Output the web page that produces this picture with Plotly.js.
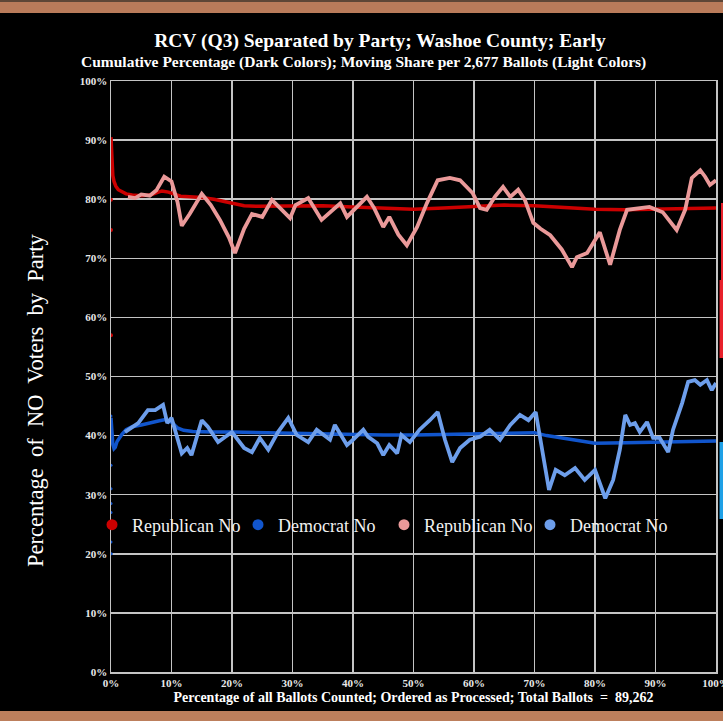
<!DOCTYPE html>
<html>
<head>
<meta charset="utf-8">
<script src="https://cdn.plot.ly/plotly-3.0.1.min.js"></script>
<style>
  html, body { margin: 0; padding: 0; background: #000; width: 723px; height: 721px; overflow: hidden; }
  #top { height: 2px; background: #5e4636; width: 723px; }
  #topband { height: 11px; background: #b97b5a; width: 723px; }
  #chart { width: 1500px; height: 698px; }
  #botband { height: 10px; background: #bd7f5c; width: 723px; }
</style>
</head>
<body>
<div id="top"></div>
<div id="topband"></div>
<div id="chart"></div>
<div id="botband"></div>
<script>
// ---- data (percent of ballots counted vs percent NO) ----
const repCumX = [0, 0.1, 0.2, 0.3, 0.5, 0.8, 1.2, 1.8, 2.5, 3.5, 5, 6.5, 7.5, 8.4, 9.5, 10.5, 11.5, 13, 15, 17, 19, 20.5, 22, 24, 27, 30, 35, 40, 45, 50, 55, 60, 65, 70, 75, 80, 85, 90, 95, 100];
const repCumY = [90.5, 88, 86, 84, 83, 82.2, 81.6, 81.2, 80.9, 80.7, 80.6, 80.7, 81.0, 81.4, 81.2, 80.9, 80.5, 80.4, 80.3, 80.0, 79.6, 79.2, 78.9, 78.8, 78.8, 78.8, 78.9, 78.7, 78.5, 78.3, 78.5, 78.8, 79.0, 78.9, 78.6, 78.3, 78.2, 78.3, 78.4, 78.5];
const repEarlyX = [0, 0, 0, 0.05];
const repEarlyY = [79.9, 74.8, 57.0, 86.0];

const demCumX = [0, 0.1, 0.2, 0.3, 0.5, 0.7, 1.0, 1.3, 1.8, 2.5, 3.5, 5, 6.5, 8, 9, 10, 11, 12, 13.5, 15, 17, 20, 25, 30, 35, 40, 45, 50, 55, 60, 65, 70, 72, 75, 78, 80, 85, 90, 95, 100];
const demCumY = [43, 41, 39.5, 38.5, 37.8, 38, 39, 39.5, 40.2, 41, 41.5, 41.8, 42.2, 42.5, 42.7, 42.3, 41.3, 40.9, 40.7, 40.6, 40.6, 40.6, 40.5, 40.3, 40.2, 40.2, 40.1, 40.1, 40.2, 40.3, 40.4, 40.5, 40.0, 39.5, 39.0, 38.7, 38.8, 38.9, 39.0, 39.1];
const demEarlyX = [0, 0, 0, 0, 0, 0, 0, 0.05];
const demEarlyY = [43.3, 35, 31, 28.5, 27, 25, 22, 20];

const repMovX = [2.8, 4, 5, 6.4, 7.5, 8.8, 10, 11, 11.7, 13, 15, 16.5, 18, 19.5, 20.5, 22, 23.3, 25, 26.6, 28, 29.6, 30.5, 32.6, 34.8, 36.5, 37.9, 39, 40.5, 42.3, 43.5, 45, 46, 47.5, 48.9, 50.6, 52.2, 54, 56, 57.7, 59.8, 61, 62.1, 63.5, 64.8, 66, 67.3, 68.4, 69.8, 71, 72.6, 74.5, 76.2, 77, 78.7, 80.8, 82.5, 84.1, 85.3, 87, 89, 91.2, 93.5, 94.9, 96, 97.4, 98.2, 99, 100];
const repMovY = [80.4, 80.2, 80.8, 80.6, 81.5, 83.8, 83.0, 79.5, 75.5, 77.5, 80.9, 79, 76.5, 73.5, 70.9, 75, 77.5, 77, 79.9, 78.5, 76.8, 79, 80.2, 76.5, 78, 79.3, 77, 78.5, 80.4, 78.5, 75.3, 77, 74, 72.2, 75.3, 79.3, 83.2, 83.6, 83.2, 81, 78.5, 78.2, 80.5, 82.1, 80.4, 81.6, 79.9, 76, 75, 73.9, 71.5, 68.5, 70.2, 70.9, 74.4, 68.9, 74.8, 78.2, 78.5, 78.7, 77.8, 74.8, 78.2, 83.6, 84.9, 83.8, 82.4, 83.2];

const demMovX = [2.3, 3.5, 4.5, 6.1, 7.3, 8.6, 9.3, 10, 10.9, 11.7, 12.6, 13.3, 15, 16, 17.7, 20, 22, 23.3, 24.6, 26, 27.6, 29.3, 30.7, 32.6, 34, 36.2, 37, 39, 40, 41.7, 42.5, 44, 45, 46, 47.3, 48, 49.4, 51, 52.7, 54, 55.2, 56.4, 57.7, 59.3, 61, 62.6, 64.3, 66, 67.6, 69, 70.2, 71.2, 72.4, 73.5, 75, 76.7, 78.3, 80, 81.7, 83, 84.1, 85, 85.8, 86.6, 87.4, 88.6, 89.6, 90.7, 92.1, 92.9, 94.4, 95.4, 96.5, 97.4, 98.5, 99.3, 100];
const demMovY = [40.6, 41.5, 42.1, 44.3, 44.3, 45.2, 42.1, 43, 39.8, 37, 37.9, 36.7, 42.6, 41.5, 38.9, 40.6, 37.9, 37.2, 39.6, 37.6, 40.6, 43, 40.1, 38.9, 41, 39.3, 41.8, 38.4, 39.3, 41, 39.8, 38.7, 36.7, 38.4, 37, 40.1, 38.9, 41, 42.6, 44, 39.3, 35.5, 37.9, 39.3, 39.8, 41, 39.3, 41.8, 43.5, 42.6, 44, 38.4, 30.8, 34.2, 33.3, 34.5, 32.5, 34.2, 29.4, 32.5, 37.6, 43.5, 41.8, 42.1, 40.6, 42.3, 39.6, 39.6, 37.2, 41, 45.5, 49.1, 49.4, 48.6, 49.4, 47.7, 48.9];

const seriesNames = ['Republican No', 'Democrat No', 'Republican No', 'Democrat No'];
const xTickVals = [0, 10, 20, 30, 40, 50, 60, 70, 80, 90, 100];
const xTickText = ['0%', '10%', '20%', '30%', '40%', '50%', '60%', '70%', '80%', '90%', '100%'];
const yTickVals = [0, 10, 20, 30, 40, 50, 60, 70, 80, 90, 100];
const yTickText = ['0%', '10%', '20%', '30%', '40%', '50%', '60%', '70%', '80%', '90%', '100%'];

const C_REP_DARK = '#cc0000', C_DEM_DARK = '#1155cc', C_REP_LIGHT = '#ea9999', C_DEM_LIGHT = '#6d9eeb';
const SERIF = '"Liberation Serif", "Times New Roman", serif';

const traces = [
  {x: repCumX, y: repCumY, mode: 'lines', line: {color: C_REP_DARK, width: 3.5}, showlegend: false, hoverinfo: 'skip'},
  {x: repEarlyX, y: repEarlyY, mode: 'markers', marker: {color: C_REP_DARK, size: 4}, showlegend: false, hoverinfo: 'skip'},
  {x: demCumX, y: demCumY, mode: 'lines', line: {color: C_DEM_DARK, width: 3.5}, showlegend: false, hoverinfo: 'skip'},
  {x: demEarlyX, y: demEarlyY, mode: 'markers', marker: {color: C_DEM_DARK, size: 3}, showlegend: false, hoverinfo: 'skip'},
  {x: repMovX, y: repMovY, mode: 'lines', line: {color: C_REP_LIGHT, width: 3.8}, showlegend: false, hoverinfo: 'skip'},
  {x: demMovX, y: demMovY, mode: 'lines', line: {color: C_DEM_LIGHT, width: 3.8}, showlegend: false, hoverinfo: 'skip'},
  // legend entries (dot symbols)
  {x: [null], y: [null], mode: 'markers', name: seriesNames[0], marker: {color: C_REP_DARK, size: 11}},
  {x: [null], y: [null], mode: 'markers', name: seriesNames[1], marker: {color: C_DEM_DARK, size: 11}},
  {x: [null], y: [null], mode: 'markers', name: seriesNames[2], marker: {color: C_REP_LIGHT, size: 11}},
  {x: [null], y: [null], mode: 'markers', name: seriesNames[3], marker: {color: C_DEM_LIGHT, size: 11}},
  // spacer entry so the last legend label is not clipped by the legend box
  {x: [null], y: [null], mode: 'markers', name: ' ', marker: {color: 'rgba(0,0,0,0)', size: 1}}
];

const W = 1500, H = 698;
const gridC = '#c4c4c4';
const layout = {
  width: W, height: H,
  margin: {l: 111, r: W - 716, t: 68, b: 39},
  paper_bgcolor: '#000', plot_bgcolor: '#000',
  font: {family: SERIF, color: '#ffffff'},
  title: {
    text: 'RCV (Q3) Separated by Party; Washoe County; Early',
    font: {family: SERIF, size: 19.5, weight: 'bold', color: '#ffffff'},
    x: 380 / W, xanchor: 'center', xref: 'container',
    y: 1 - 27 / H, yanchor: 'middle', yref: 'container'
  },
  annotations: [
    {
      text: 'Cumulative Percentage (Dark Colors); Moving Share per 2,677 Ballots (Light Colors)',
      xref: 'paper', yref: 'paper',
      x: (363 - 111) / 605, y: (672 - 62) / 591, xanchor: 'center', yanchor: 'middle',
      showarrow: false, font: {family: SERIF, size: 15.5, weight: 'bold', color: '#ffffff'}
    },
    {
      text: 'Percentage  of  NO  Voters  by  Party',
      xref: 'paper', yref: 'paper', textangle: -90,
      x: (35 - 111) / 605, y: (672 - 400) / 591, xanchor: 'center', yanchor: 'middle',
      showarrow: false, font: {family: SERIF, size: 22.5, color: '#ffffff'}
    }
  ],
  xaxis: {
    range: [0, 100], tickvals: xTickVals, ticktext: xTickText,
    showgrid: true, gridcolor: gridC, gridwidth: 1.5,
    showline: true, linecolor: gridC, linewidth: 1.5, mirror: true,
    zeroline: false, ticks: '',
    tickfont: {family: SERIF, size: 11, weight: 'bold', color: '#e8e8e8'},
    title: {
      text: 'Percentage of all Ballots Counted; Ordered as Processed; Total Ballots  =  89,262',
      font: {family: SERIF, size: 14, weight: 'bold', color: '#ffffff'}, standoff: 4
    },
    fixedrange: true
  },
  yaxis: {
    range: [0, 100], tickvals: yTickVals, ticktext: yTickText,
    showgrid: true, gridcolor: gridC, gridwidth: 1.5,
    showline: true, linecolor: gridC, linewidth: 1.5, mirror: true,
    zeroline: false, ticks: '',
    tickfont: {family: SERIF, size: 11, weight: 'bold', color: '#e8e8e8'},
    fixedrange: true
  },
  legend: {
    orientation: 'h', x: -19 / 605, xanchor: 'left',
    y: (672 - 525) / 591, yanchor: 'middle',
    bgcolor: 'rgba(0,0,0,0)', font: {family: SERIF, size: 18, color: '#f2f2f2'},
    itemwidth: 30, entrywidth: 101, entrywidthmode: 'pixels'
  },
  shapes: [
    {type: 'rect', xref: 'paper', yref: 'paper', x0: (721 - 111) / 605, x1: (724 - 111) / 605,
     y0: (672 - 280) / 591, y1: (672 - 203) / 591, fillcolor: '#e8202a', line: {width: 0}},
    {type: 'rect', xref: 'paper', yref: 'paper', x0: (719.5 - 111) / 605, x1: (724 - 111) / 605,
     y0: (672 - 358) / 591, y1: (672 - 280) / 591, fillcolor: '#e8202a', line: {width: 0}},
    {type: 'rect', xref: 'paper', yref: 'paper', x0: (719.5 - 111) / 605, x1: (724 - 111) / 605,
     y0: (672 - 519) / 591, y1: (672 - 442) / 591, fillcolor: '#1ea0e6', line: {width: 0}}
  ],
  showlegend: true
};

Plotly.newPlot('chart', traces, layout, {staticPlot: true, displayModeBar: false});
</script>
</body>
</html>
